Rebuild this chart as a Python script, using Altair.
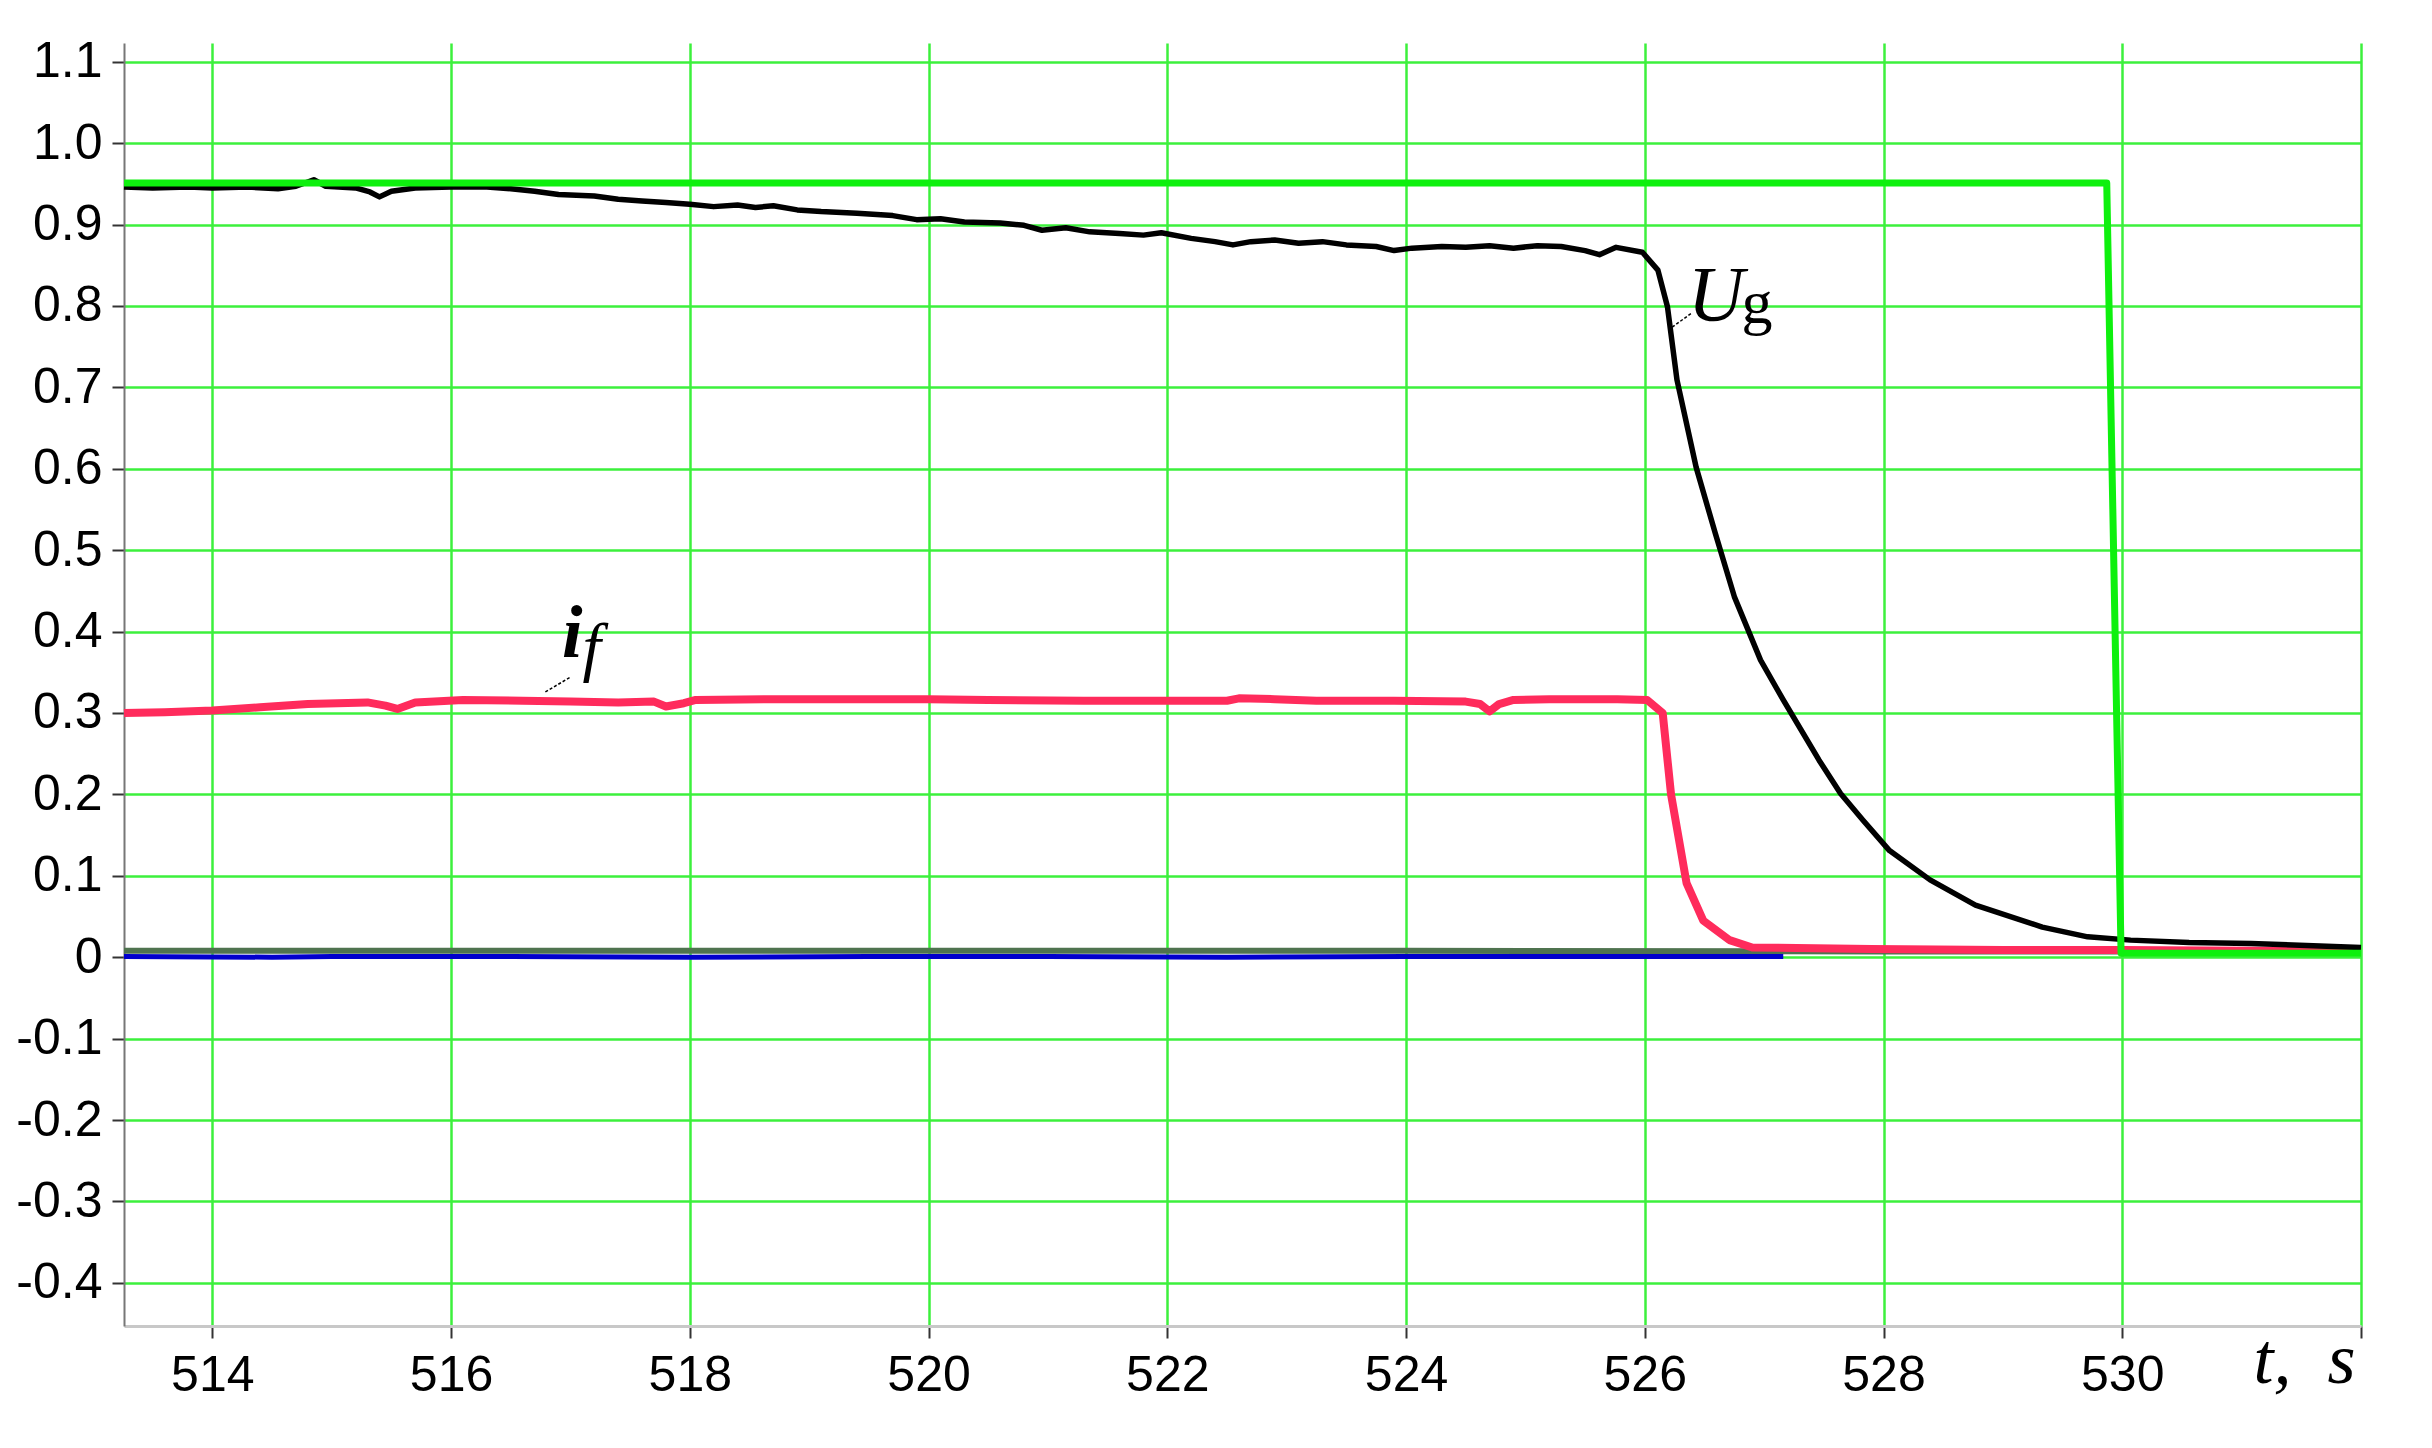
import altair as alt
import pandas as pd

# ---------------- data ----------------
X_DOMAIN = [513.26, 532.0]
Y_DOMAIN = [-0.453, 1.123]
X_TICKS = [514, 516, 518, 520, 522, 524, 526, 528, 530, 532]
Y_TICKS = [-0.4, -0.3, -0.2, -0.1, 0.0, 0.1, 0.2, 0.3, 0.4, 0.5, 0.6, 0.7, 0.8, 0.9, 1.0, 1.1]

# generator voltage U_g (black)
ug_t = [513.26, 513.5, 513.8, 514.0, 514.3, 514.55, 514.7, 514.85, 514.95, 515.2, 515.32, 515.4,
        515.5, 515.7, 516.0, 516.3, 516.5, 516.7, 516.9, 517.2, 517.4, 517.6, 517.8, 518.0,
        518.2, 518.4, 518.55, 518.7, 518.9, 519.1, 519.4, 519.7, 519.9, 520.1, 520.3, 520.6,
        520.8, 520.95, 521.15, 521.35, 521.6, 521.8, 521.95, 522.2, 522.4, 522.55, 522.7, 522.9,
        523.1, 523.3, 523.5, 523.75, 523.9, 524.05, 524.3, 524.5, 524.7, 524.9, 525.1, 525.3,
        525.5, 525.62, 525.76, 525.98, 526.11, 526.19, 526.27, 526.43, 526.59, 526.75, 526.97,
        527.16, 527.46, 527.64, 527.83, 528.05, 528.39, 528.77, 529.33, 529.71, 530.07, 530.56,
        531.08, 531.6, 532.0]
ug_v = [0.946, 0.945, 0.946, 0.945, 0.946, 0.944, 0.947, 0.955, 0.947, 0.945, 0.940, 0.934,
        0.941, 0.945, 0.946, 0.946, 0.944, 0.941, 0.937, 0.935, 0.931, 0.929, 0.927, 0.925,
        0.922, 0.924, 0.921, 0.923, 0.918, 0.916, 0.914, 0.911, 0.906, 0.907, 0.903, 0.902,
        0.899, 0.893, 0.896, 0.891, 0.889, 0.887, 0.890, 0.883, 0.879, 0.875, 0.879, 0.881,
        0.877, 0.879, 0.875, 0.873, 0.868, 0.871, 0.873, 0.872, 0.874, 0.871, 0.874, 0.873,
        0.868, 0.863, 0.872, 0.866, 0.844, 0.799, 0.709, 0.602, 0.521, 0.443, 0.365,
        0.316, 0.242, 0.201, 0.168, 0.131, 0.095, 0.064, 0.037, 0.025, 0.021, 0.018,
        0.017, 0.014, 0.012]

# field current i_f (pink)
if_t = [513.26, 513.6, 514.0, 514.4, 514.8, 515.3, 515.45, 515.55, 515.7, 516.1, 516.6, 517.0,
        517.4, 517.7, 517.8, 517.95, 518.05, 518.7, 519.5, 520.0, 520.5, 521.3, 522.0, 522.5,
        522.6, 522.9, 523.25, 523.9, 524.5, 524.62, 524.7, 524.78, 524.9, 525.2, 525.77, 526.02,
        526.15, 526.22, 526.35, 526.49, 526.71, 526.9, 527.9, 529.0, 530.0, 531.0, 532.0]
if_v = [0.300, 0.301, 0.303, 0.307, 0.311, 0.313, 0.309, 0.305, 0.313, 0.316, 0.315, 0.314,
        0.313, 0.314, 0.308, 0.312, 0.316, 0.317, 0.317, 0.317, 0.316, 0.315, 0.315, 0.315,
        0.318, 0.317, 0.315, 0.315, 0.314, 0.311, 0.302, 0.311, 0.316, 0.317, 0.317, 0.316,
        0.300, 0.200, 0.091, 0.045, 0.021, 0.012, 0.010, 0.009, 0.009, 0.008, 0.008]

# green step signal
step_t = [513.26, 529.87, 529.99, 532.0]
step_v = [0.951, 0.951, 0.005, 0.005]

# grey-green near-zero trace
gg_t = [513.26, 516.0, 520.0, 524.0, 528.0, 532.0]
gg_v = [0.008, 0.008, 0.008, 0.008, 0.007, 0.007]

# blue near-zero trace
bl_t = [513.26, 514.5, 515.0, 516.5, 518.0, 519.5, 521.0, 522.5, 524.0, 525.5, 527.16]
bl_v = [0.001, 0.000, 0.001, 0.001, 0.000, 0.001, 0.001, 0.000, 0.001, 0.001, 0.001]

# curve labels (leader lines and text)
leader_id = ["ug", "ug", "if", "if"]
leader_t = [526.23, 526.39, 516.79, 517.0]
leader_v = [0.774, 0.791, 0.326, 0.344]

lab_u = ["U"]
lab_u_t = [526.36]
lab_u_v = [0.7826]

lab_i = ["i"]
lab_i_t = [516.93]
lab_i_v = [0.3686]

lab_sub_f = ["f"]
lab_sub_f_t = [517.1]
lab_sub_f_v = [0.354]

lab_sub_g = ["g"]
lab_sub_g_t = [526.81]
lab_sub_g_v = [0.7789]

axis_lab = ["t,\u00a0 s"]
axis_lab_t = [531.1]
axis_lab_v = [-0.523]

# ---------------- chart ----------------
xs = alt.Scale(domain=X_DOMAIN, nice=False, zero=False)
ys = alt.Scale(domain=Y_DOMAIN, nice=False, zero=False)

GRID = "#3cf03c"

x_axis = alt.Axis(values=X_TICKS, grid=True, gridColor=GRID, gridWidth=2.5, gridOpacity=1,
                  domainColor="#c8c8c8", domainWidth=3, tickColor="#333333", tickWidth=2,
                  tickSize=12, labelFont="Liberation Sans", labelFontSize=50, labelColor="black",
                  labelPadding=12, labelFlush=False, labelOverlap=False, title=None,
                  labelExpr="datum.value > 531 ? '' : format(datum.value, 'd')")
y_axis = alt.Axis(values=Y_TICKS, grid=True, gridColor=GRID, gridWidth=2.5, gridOpacity=1,
                  domainColor="#777777", domainWidth=2, tickColor="#333333", tickWidth=2,
                  tickSize=12, labelFont="Liberation Sans", labelFontSize=50, labelColor="black",
                  labelPadding=10, labelFlush=False, labelOverlap=False, title=None,
                  labelExpr="abs(datum.value) < 1e-9 ? '0' : (datum.value < 0 ? '-' : '') + format(abs(datum.value), '.1f')")


def X():
    return alt.X("t:Q", scale=xs, axis=x_axis)


def Y():
    return alt.Y("v:Q", scale=ys, axis=y_axis)


def line_layer(t, v, color, width):
    df = pd.DataFrame({"t": t, "v": v, "o": list(range(len(t)))})
    return alt.Chart(df).mark_line(color=color, strokeWidth=width, strokeJoin="round",
                                   strokeCap="butt").encode(x=X(), y=Y(), order="o:Q")


def text_layer(lab, t, v, size, italic=True, bold=False):
    kw = dict(font="Liberation Serif", fontSize=size, align="left", baseline="alphabetic",
              color="black")
    if italic:
        kw["fontStyle"] = "italic"
    if bold:
        kw["fontWeight"] = "bold"
    df = pd.DataFrame({"lab": lab, "t": t, "v": v})
    return alt.Chart(df).mark_text(**kw).encode(x=X(), y=Y(), text="lab:N")


gg = line_layer(gg_t, gg_v, "#4f734f", 6)
blue = line_layer(bl_t, bl_v, "#0000cc", 5)
pink = line_layer(if_t, if_v, "#ff2b5c", 8)
black = line_layer(ug_t, ug_v, "#000000", 5.5)
green = line_layer(step_t, step_v, "#0ef00e", 7)

leaders = alt.Chart(pd.DataFrame({"id": leader_id, "t": leader_t, "v": leader_v})).mark_line(
    color="black", strokeWidth=1.5, strokeDash=[3, 2]).encode(x=X(), y=Y(), detail="id:N")

u_txt = text_layer(lab_u, lab_u_t, lab_u_v, 78)
i_txt = text_layer(lab_i, lab_i_t, lab_i_v, 74, bold=True)
f_txt = text_layer(lab_sub_f, lab_sub_f_t, lab_sub_f_v, 66)
g_txt = text_layer(lab_sub_g, lab_sub_g_t, lab_sub_g_v, 62, italic=False)
ts_txt = text_layer(axis_lab, axis_lab_t, axis_lab_v, 72)

chart = alt.layer(gg, blue, pink, black, green, leaders, u_txt, i_txt, f_txt, g_txt, ts_txt).properties(
    width=2237, height=1283,
    autosize=alt.AutoSizeParams(type="none"),
    padding={"left": 116, "top": 35, "right": 60, "bottom": 100},
    background="white",
).configure_view(stroke=None)

chart.save("out.html", embed_options={"renderer": "svg", "actions": False})
